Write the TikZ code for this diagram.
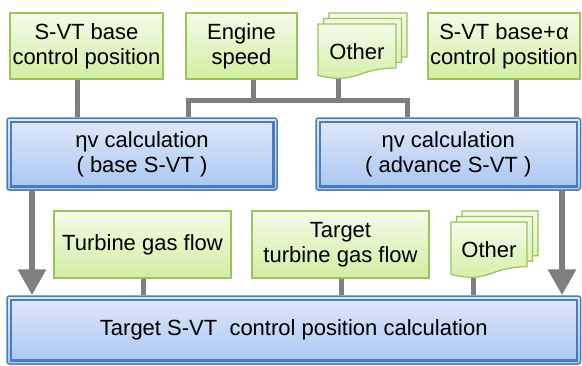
\documentclass[tikz,border=0pt]{standalone}
\usepackage{fontspec}
\setmainfont{Liberation Sans}
\usetikzlibrary{arrows.meta,calc,backgrounds}
\definecolor{gborder}{HTML}{9BC35A}
\definecolor{gtop}{HTML}{F4FBE8}
\definecolor{gbot}{HTML}{D3EDA3}
\definecolor{bborder}{HTML}{4A7EBB}
\definecolor{btop}{HTML}{E0E9FA}
\definecolor{bbot}{HTML}{A9C5F2}
\definecolor{connc}{HTML}{7F7F7F}
\newcommand\docsheet[4]{%
  \path[docst] (#1,#2) -- (#3,#2) -- (#3,{#2+0.8*#4})
    .. controls ({(#1+#3)/2},{#2+0.8*#4}) and ({(#1+#3)/2},{#2+1.108*#4}) ..
    (#1,{#2+0.934*#4}) -- cycle;}
\begin{document}
\begin{tikzpicture}[x=1pt,y=-1pt,
  font=\fontsize{22pt}{25pt}\selectfont,
  gbox/.style={draw=gborder, line width=1.2pt, top color=gtop, bottom color=gbot,
    inner sep=0pt, align=center},
  bbox/.style={draw=bborder, line width=1.5pt, rounded corners=2.5pt,
    top color=btop, bottom color=bbot, inner sep=0pt, align=center},
  docst/.style={draw=gborder, line width=1.2pt, top color=gtop, bottom color=gbot},
  doctext/.style={inner sep=0pt, minimum width=78pt, minimum height=55pt},
  conn/.style={draw=connc, line width=5pt},
  arr/.style={draw=connc, line width=6.3pt, -{Triangle[width=27pt,length=26pt]}},
  innerb/.style={draw=bborder, line width=2.5pt}]
\useasboundingbox (0,0) rectangle (582,365);

% top row
\node[gbox, minimum width=153pt, minimum height=66pt] (sbase) at (86.5,46)
  {S-VT base\\control position};
\node[gbox, minimum width=111pt, minimum height=66pt] (eng) at (241.5,46)
  {Engine\\speed};
\node[gbox, minimum width=152pt, minimum height=66pt] (salpha) at (504,46)
  {S-VT base+α\\control position};
\docsheet{329}{13}{407}{55}
\docsheet{323.5}{18.5}{401.5}{55}
\docsheet{318}{24}{396}{55}
\node[doctext] (oth1) at (357,51.5) {Other};

% middle row
\node[bbox, minimum width=270pt, minimum height=72pt] (eta1) at (142,154)
  {ηv calculation\\( base S-VT )};
\node[bbox, minimum width=264.5pt, minimum height=72pt] (eta2) at (448.25,154)
  {ηv calculation\\( advance S-VT )};

% lower row
\node[gbox, minimum width=177pt, minimum height=67pt] (turb) at (142.5,244.5)
  {Turbine gas flow};
\node[gbox, minimum width=177pt, minimum height=67pt] (tgt) at (340.5,244.5)
  {Target\\turbine gas flow};
\docsheet{462}{211}{538}{56}
\docsheet{456.5}{216.5}{532.5}{56}
\docsheet{451}{222}{527}{56}
\node[doctext, minimum width=76pt, minimum height=56pt] (oth2) at (489,250) {Other};

% bottom
\node[bbox, minimum width=573.5pt, minimum height=68pt] (final) at (293.75,330)
  {Target S-VT\ \ control position calculation};

\foreach \n in {eta1,eta2,final}
  \draw[innerb] ($(\n.north west)+(4.5,4.5)$) rectangle ($(\n.south east)+(-4.5,-4.5)$);

% helper coordinates
\coordinate (xs1) at (77,0);
\coordinate (xeng) at (253,0);
\coordinate (xo1) at (338,0);
\coordinate (xs2) at (516,0);
\coordinate (busL) at (188,100);
\coordinate (busR) at (407,100);
\coordinate (xa1) at (32,0);
\coordinate (xa2) at (562,0);
\coordinate (xt1) at (143,0);
\coordinate (xt2) at (341,0);
\coordinate (xo2) at (473,0);

\begin{scope}[on background layer]
  \draw[conn] (sbase.south -| xs1) -- (eta1.north -| xs1);
  \draw[conn] (salpha.south -| xs2) -- (eta2.north -| xs2);
  \draw[conn] (eng.south -| xeng) -- (busL -| xeng);
  \draw[conn] (oth1.south -| xo1) -- (busL -| xo1);
  \draw[conn, line join=miter] (eta1.north -| busL) -- (busL) -- (busR) -- (eta2.north -| busR);
  \draw[conn] (turb.south -| xt1) -- (final.north -| xt1);
  \draw[conn] (tgt.south -| xt2) -- (final.north -| xt2);
  \draw[conn] (oth2.south -| xo2) -- (final.north -| xo2);
  \draw[arr] (eta1.south -| xa1) -- (final.north -| xa1);
  \draw[arr] (eta2.south -| xa2) -- (final.north -| xa2);
\end{scope}
\end{tikzpicture}
\end{document}
